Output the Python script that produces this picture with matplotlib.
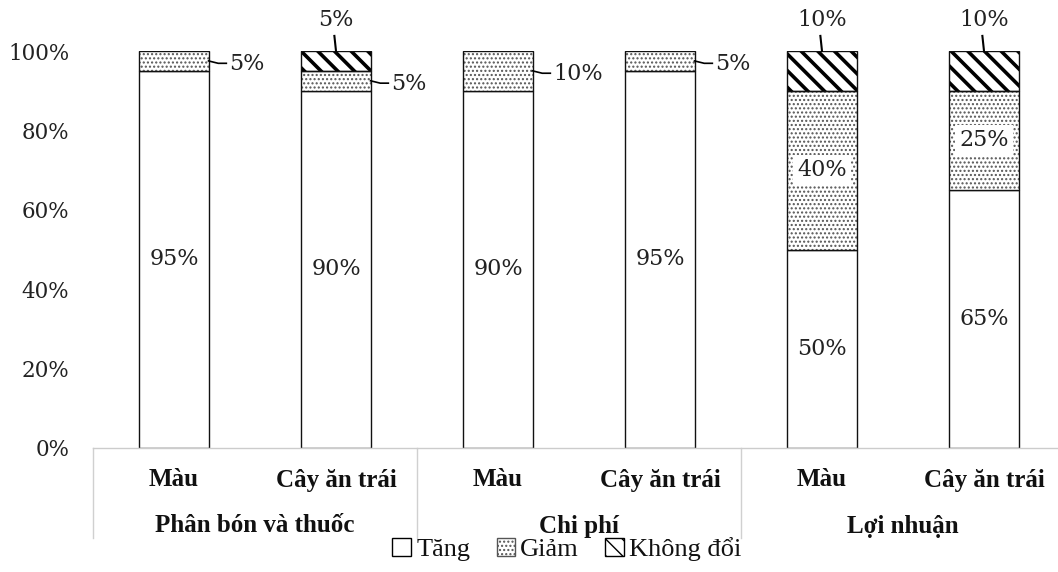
import matplotlib
matplotlib.use("Agg")
import matplotlib.pyplot as plt
from matplotlib.patches import Patch
import numpy as np

categories = ["Màu", "Cây ăn trái", "Màu", "Cây ăn trái", "Màu", "Cây ăn trái"]
groups = ["Phân bón và thuốc", "Chi phí", "Lợi nhuận"]
tang = [95, 90, 90, 95, 50, 65]
giam = [5, 5, 10, 5, 40, 25]
khong_doi = [0, 5, 0, 0, 10, 10]
series_names = ["Tăng", "Giảm", "Không đổi"]
yticks = [0, 20, 40, 60, 80, 100]

W, H = 1058, 572
fig = plt.figure(figsize=(W / 100, H / 100), dpi=100)
left_px, right_px, bot_px, top_px = 93, 1065, 448, 51
ax = fig.add_axes([left_px / W, 1 - bot_px / H, (right_px - left_px) / W, (bot_px - top_px) / H])
ax.set_xlim(-0.5, 5.5)
ax.set_ylim(0, 100)

serif = "Liberation Serif"
numfam = "DejaVu Serif"
numsize = 16

x = np.arange(len(categories))
width = 0.426
tang_a = np.array(tang, float)
giam_a = np.array(giam, float)
kd_a = np.array(khong_doi, float)

# Tăng
ax.bar(x, tang_a, width, color="white", edgecolor="#111111", linewidth=1.0, zorder=2)
# Giảm: dotted fill
ax.bar(x, giam_a, width, bottom=tang_a, color="white", edgecolor="#555555",
       linewidth=0, hatch="....", zorder=2)
ax.bar(x, giam_a, width, bottom=tang_a, fill=False, edgecolor="#111111", linewidth=1.0, zorder=3)
# Không đổi: thick diagonal
with plt.rc_context({"hatch.linewidth": 2.6}):
    b_k = ax.bar(x, kd_a, width, bottom=tang_a + giam_a, color="white", edgecolor="black",
                 linewidth=0, hatch="\\\\", zorder=2)
b_k2 = ax.bar(x, kd_a, width, bottom=tang_a + giam_a, fill=False, edgecolor="#111111",
              linewidth=1.0, zorder=3)
for p in list(b_k) + list(b_k2):
    if p.get_height() == 0:
        p.set_visible(False)

ax.set_yticks(yticks)
ax.set_yticklabels([f"{v}%" for v in yticks], fontfamily=numfam, fontsize=15.5, color="#222222")
ax.tick_params(axis="y", length=0, pad=17)
ax.set_xticks([])
for s in ["top", "right", "left"]:
    ax.spines[s].set_visible(False)
ax.spines["bottom"].set_color("#cccccc")
ax.spines["bottom"].set_linewidth(1.0)

lblkw = dict(fontfamily=numfam, fontsize=numsize, color="#222222", ha="center", va="center", zorder=5)

# Tăng labels (centered)
for i in range(len(x)):
    ax.text(x[i], tang_a[i] / 2, f"{tang[i]}%", **lblkw)

# Giảm labels
for i in range(len(x)):
    mid = tang_a[i] + giam_a[i] / 2
    if giam[i] >= 20:
        ax.text(x[i], mid, f"{giam[i]}%", bbox=dict(facecolor="white", edgecolor="none", pad=3), **lblkw)
    else:
        x0 = x[i] + width / 2
        ax.plot([x0, x0 + 0.06, x0 + 0.11], [mid, mid - 0.6, mid - 0.6], color="black", lw=1.2,
                clip_on=False, zorder=5)
        ax.text(x0 + 0.13, mid - 0.8, f"{giam[i]}%", **{**lblkw, "ha": "left"})

# Không đổi labels (above)
for i in range(len(x)):
    if khong_doi[i] > 0:
        top = tang_a[i] + giam_a[i] + kd_a[i]
        ax.plot([x[i], x[i] - 0.01], [top, top + 3.8], color="black", lw=1.5, clip_on=False, zorder=5)
        ax.text(x[i], top + 7.9, f"{khong_doi[i]}%", **lblkw)

# category axis area
trans = ax.get_xaxis_transform()
def py(px):
    return (bot_px - px) / (bot_px - top_px)

for xs in [-0.5, 1.5, 3.5]:
    ax.plot([xs, xs], [0, py(538)], transform=trans, color="#d0d0d0", lw=1.0, clip_on=False)
for i, c in enumerate(categories):
    ax.text(x[i], py(480), c, transform=trans, ha="center", va="center",
            fontfamily=serif, fontweight="bold", fontsize=18, color="#111111")
for g, name in enumerate(groups):
    ax.text(2 * g + 0.5, py(526), name, transform=trans, ha="center", va="center",
            fontfamily=serif, fontweight="bold", fontsize=18, color="#111111")

# legend
h1 = Patch(facecolor="white", edgecolor="black", linewidth=1.0)
h2 = Patch(facecolor="white", edgecolor="#555555", hatch="....", linewidth=1.0)
with plt.rc_context({"hatch.linewidth": 2.6}):
    h3 = Patch(facecolor="white", edgecolor="black", hatch="\\\\", linewidth=1.0)
leg = fig.legend([h1, h2, h3], series_names, loc="center", bbox_to_anchor=(567 / W, 1 - 549 / H),
                 ncol=3, frameon=False, prop={"family": serif, "size": 19},
                 handlelength=0.7, handleheight=0.7, handletextpad=0.2, columnspacing=1.0,
                 borderpad=0)
for t in leg.get_texts():
    t.set_color("#111111")

fig.savefig("out.png", dpi=100)
